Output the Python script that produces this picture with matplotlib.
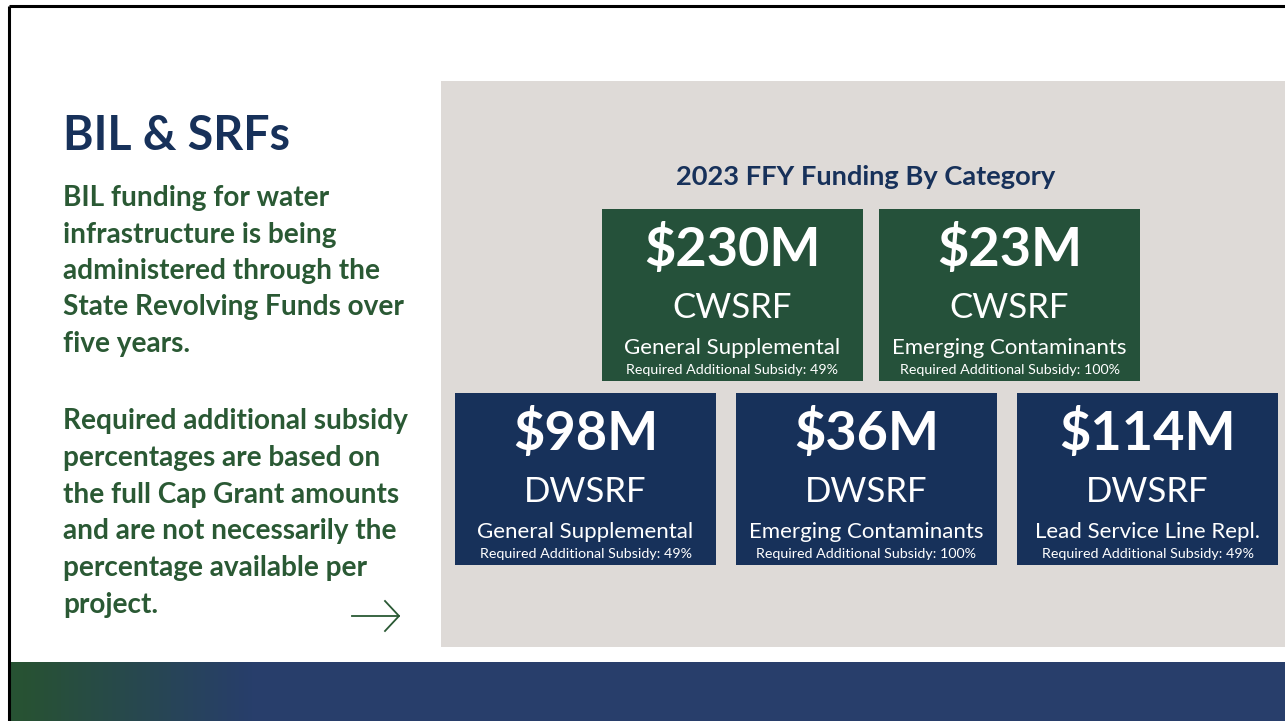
import numpy as np
import matplotlib.pyplot as plt
from matplotlib.patches import Rectangle

# Data
amounts = ['$230M', '$23M', '$98M', '$36M', '$114M']
programs = ['CWSRF', 'CWSRF', 'DWSRF', 'DWSRF', 'DWSRF']
categories = ['General Supplemental', 'Emerging Contaminants', 'General Supplemental',
              'Emerging Contaminants', 'Lead Service Line Repl.']
subsidies = ['49%', '100%', '49%', '100%', '49%']

# Layout (pixel coords, y down)
box_x = [602, 879, 455, 736, 1017]
box_y = [209, 209, 393, 393, 393]
box_w, box_h = 261, 172

green = '#25513a'
navy = '#17315a'
text_green = '#2a5934'
panel = '#dedad7'

plt.rcParams['font.family'] = ['Lato', 'DejaVu Sans']

fig = plt.figure(figsize=(12.85, 7.21), dpi=100)
ax = fig.add_axes([0, 0, 1, 1])
ax.axis('off')

# slide border
ax.plot([9, 9], [721, 6], color='black', lw=2.2, solid_capstyle='butt')
ax.plot([9, 1285], [6, 6], color='black', lw=2.2, solid_capstyle='butt')

# gray panel
ax.add_patch(Rectangle((441, 81), 844, 566, color=panel, lw=0))

# bottom gradient band
c1 = np.array([0x27, 0x52, 0x33]) / 255
c2 = np.array([0x28, 0x3e, 0x6b]) / 255
t = np.clip((np.linspace(10, 1285, 300) - 20) / 230, 0, 1)
img = (c1[None, :] * (1 - t[:, None]) + c2[None, :] * t[:, None])[None, :, :]
ax.imshow(img, extent=(10, 1285, 721, 662), aspect='auto', zorder=1)
ax.set_xlim(0, 1285)
ax.set_ylim(721, 0)

# left text
ax.text(63, 150, 'BIL & SRFs', fontsize=33.5, fontweight='bold', color=navy, va='baseline')
para1 = ['BIL funding for water', 'infrastructure is being', 'administered through the',
         'State Revolving Funds over', 'five years.']
para2 = ['Required additional subsidy', 'percentages are based on', 'the full Cap Grant amounts',
         'and are not necessarily the', 'percentage available per', 'project.']
for i, line in enumerate(para1):
    ax.text(63, 206 + i * 36.5, line, fontsize=20.2, fontweight='bold', color=text_green, va='baseline')
for i, line in enumerate(para2):
    ax.text(63, 429 + i * 36.8, line, fontsize=20.2, fontweight='bold', color=text_green, va='baseline')

# arrow
ax.plot([352, 399], [616, 616], color=text_green, lw=1.3)
ax.plot([385, 399, 385], [601, 616, 631], color=text_green, lw=1.3)

# chart title
ax.text(866, 177, '2023 FFY Funding By Category', fontsize=19.6, fontweight='bold',
        color=navy, ha='center', va='center')

# boxes
for i in range(len(amounts)):
    x, y = box_x[i], box_y[i]
    fc = green if programs[i] == 'CWSRF' else navy
    ax.add_patch(Rectangle((x, y), box_w, box_h, color=fc, lw=0, zorder=2))
    cx = x + box_w / 2
    ax.text(cx, y + 41, amounts[i], fontsize=39, fontweight='bold', color='white',
            ha='center', va='center', zorder=3)
    ax.text(cx, y + 99, programs[i], fontsize=25, color='white', ha='center', va='center', zorder=3)
    ax.text(cx, y + 139, categories[i], fontsize=16, color='white', ha='center', va='center', zorder=3)
    ax.text(cx, y + 161, 'Required Additional Subsidy: ' + subsidies[i], fontsize=10.3,
            color='white', ha='center', va='center', zorder=3)

fig.savefig('out.png', dpi=100)
